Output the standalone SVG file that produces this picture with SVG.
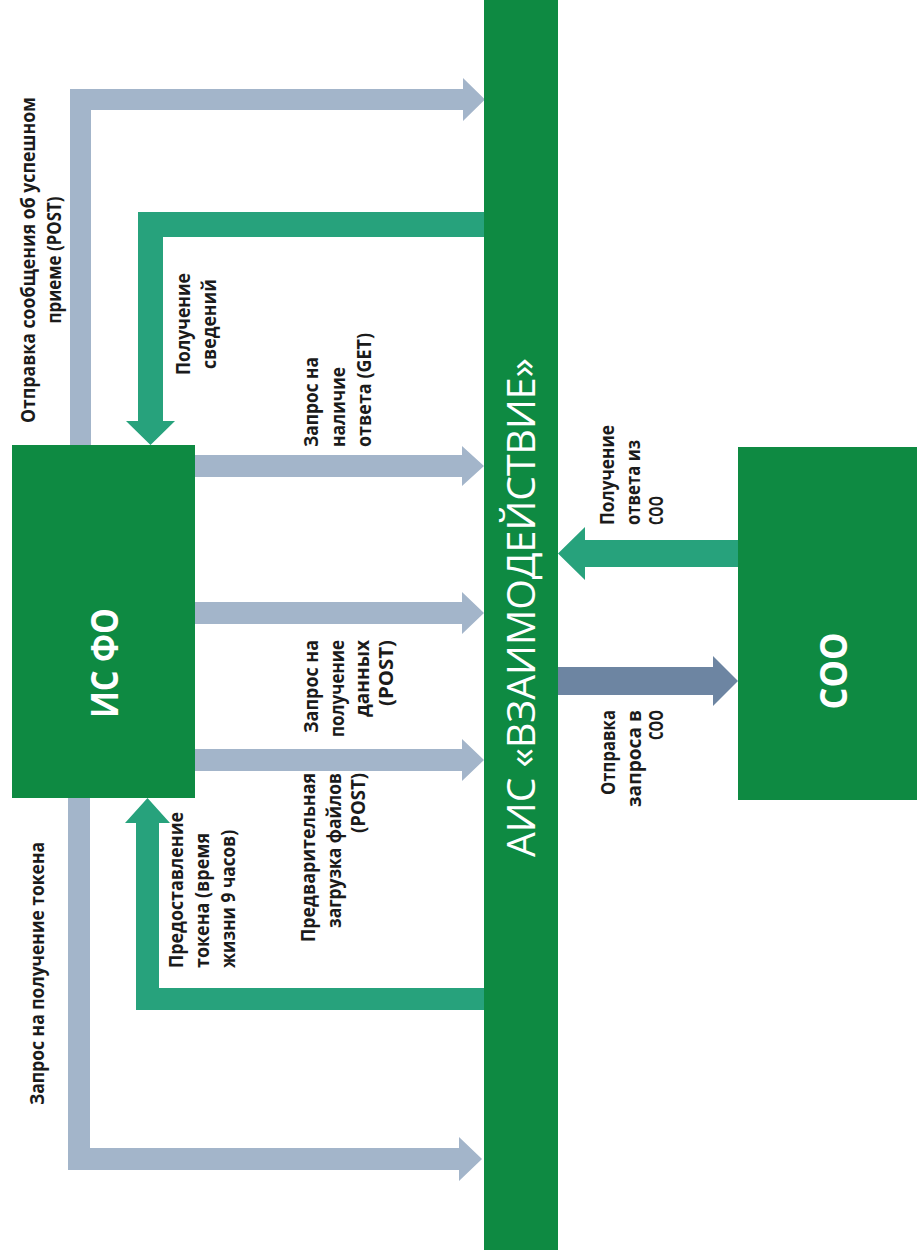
<svg xmlns="http://www.w3.org/2000/svg" width="917" height="1260" viewBox="0 0 917 1260">
<style>
.node{fill:#0e8a42}
.gray{fill:#a3b5ca}
.teal{fill:#27a27c}
.slate{fill:#6d85a2}
.lbl{font-family:"Open Sans","Liberation Sans",sans-serif;font-weight:700;font-size:20px;fill:#1b1b1b}
.big{font-family:"Open Sans","Liberation Sans",sans-serif;font-weight:700;font-size:37px;fill:#ffffff}
.ais{font-family:"Open Sans","Liberation Sans",sans-serif;font-weight:400;font-size:38px;fill:#ffffff}
</style>
<rect width="917" height="1260" fill="#ffffff"/>
<g id="connectors">
  <polygon id="c-post-ok" class="gray" points="70,445 70,89 463,89 463,78 485,99.5 463,121 463,110 91,110 91,445"/>
  <polygon id="c-svedeniya" class="teal" points="484,212 138,212 138,421 126,421 150.5,445 175,421 163,421 163,237 484,237"/>
  <polygon id="c-get" class="gray" points="195,455 462,455 462,446 484,466 462,486 462,477 195,477"/>
  <polygon id="c-post-data" class="gray" points="195,602 462,602 462,592 484,613 462,634 462,624 195,624"/>
  <polygon id="c-post-files" class="gray" points="195,749 462,749 462,739 484,760 462,781 462,771 195,771"/>
  <polygon id="c-token-give" class="teal" points="484,1010 136,1010 136,823 125,823 147.5,798 170,823 159,823 159,988 484,988"/>
  <polygon id="c-token-req" class="gray" points="68,798 68,1170 459,1170 459,1181 482,1159 459,1137 459,1148 90,1148 90,798"/>
  <polygon id="c-soo-resp" class="teal" points="738,540 585,540 585,527 558,553.5 585,580 585,567 738,567"/>
  <polygon id="c-soo-req" class="slate" points="558,667 713,667 713,656 738,681 713,706 713,695 558,695"/>
</g>
<g id="node-ais">
  <rect class="node" x="484" y="0" width="74" height="1250"/>
  <text class="ais" transform="translate(535,607.5) rotate(-90)" text-anchor="middle" textLength="499" lengthAdjust="spacingAndGlyphs">АИС «ВЗАИМОДЕЙСТВИЕ»</text>
</g>
<g id="node-isfo">
  <rect class="node" x="12" y="445" width="183" height="353"/>
  <text class="big" transform="translate(118,663) rotate(-90)" text-anchor="middle" textLength="110" lengthAdjust="spacingAndGlyphs">ИС ФО</text>
</g>
<g id="node-soo">
  <rect class="node" x="738" y="447" width="179" height="353"/>
  <text class="big" transform="translate(847,671) rotate(-90)" text-anchor="middle" textLength="77" lengthAdjust="spacingAndGlyphs">СОО</text>
</g>
<g id="labels">
  <g transform="translate(0,260) rotate(-90)" text-anchor="middle">
    <text class="lbl" x="0" y="35" textLength="326" lengthAdjust="spacingAndGlyphs">Отправка сообщения об успешном</text>
    <text class="lbl" x="0" y="61" textLength="127" lengthAdjust="spacingAndGlyphs">приеме (POST)</text>
  </g>
  <g transform="translate(0,324) rotate(-90)" text-anchor="middle">
    <text class="lbl" x="0" y="190" textLength="102" lengthAdjust="spacingAndGlyphs">Получение</text>
    <text class="lbl" x="0" y="216" textLength="90" lengthAdjust="spacingAndGlyphs">сведений</text>
  </g>
  <g transform="translate(0,447) rotate(-90)" text-anchor="start">
    <text class="lbl" x="0" y="318" textLength="90" lengthAdjust="spacingAndGlyphs">Запрос на</text>
    <text class="lbl" x="0" y="345" textLength="80" lengthAdjust="spacingAndGlyphs">наличие</text>
    <text class="lbl" x="0" y="371" textLength="114" lengthAdjust="spacingAndGlyphs">ответа (GET)</text>
  </g>
  <g transform="translate(0,640) rotate(-90)" text-anchor="end">
    <text class="lbl" x="0" y="318" textLength="93" lengthAdjust="spacingAndGlyphs">Запрос на</text>
    <text class="lbl" x="0" y="344" textLength="97" lengthAdjust="spacingAndGlyphs">получение</text>
    <text class="lbl" x="0" y="369" textLength="77" lengthAdjust="spacingAndGlyphs">данных</text>
    <text class="lbl" x="0" y="393" textLength="66" lengthAdjust="spacingAndGlyphs">(POST)</text>
  </g>
  <g transform="translate(0,773) rotate(-90)" text-anchor="end">
    <text class="lbl" x="0" y="315" textLength="169" lengthAdjust="spacingAndGlyphs">Предварительная</text>
    <text class="lbl" x="0" y="341" textLength="155" lengthAdjust="spacingAndGlyphs">загрузка файлов</text>
    <text class="lbl" x="0" y="365" textLength="60" lengthAdjust="spacingAndGlyphs">(POST)</text>
  </g>
  <g transform="translate(0,968) rotate(-90)" text-anchor="start">
    <text class="lbl" x="0" y="183" textLength="156" lengthAdjust="spacingAndGlyphs">Предоставление</text>
    <text class="lbl" x="0" y="209" textLength="135" lengthAdjust="spacingAndGlyphs">токена (время</text>
    <text class="lbl" x="0" y="235" textLength="138" lengthAdjust="spacingAndGlyphs">жизни 9 часов)</text>
  </g>
  <g transform="translate(0,1105) rotate(-90)" text-anchor="start">
    <text class="lbl" x="0" y="44" textLength="263" lengthAdjust="spacingAndGlyphs">Запрос на получение токена</text>
  </g>
  <g transform="translate(0,525) rotate(-90)" text-anchor="start">
    <text class="lbl" x="0" y="614" textLength="100" lengthAdjust="spacingAndGlyphs">Получение</text>
    <text class="lbl" x="0" y="640" textLength="85" lengthAdjust="spacingAndGlyphs">ответа из</text>
    <text class="lbl" x="0" y="663" textLength="29" lengthAdjust="spacingAndGlyphs">СОО</text>
  </g>
  <g transform="translate(0,710) rotate(-90)" text-anchor="end">
    <text class="lbl" x="0" y="615" textLength="85" lengthAdjust="spacingAndGlyphs">Отправка</text>
    <text class="lbl" x="0" y="641" textLength="97" lengthAdjust="spacingAndGlyphs">запроса в</text>
    <text class="lbl" x="0" y="663" textLength="30" lengthAdjust="spacingAndGlyphs">СОО</text>
  </g>
</g>
</svg>
